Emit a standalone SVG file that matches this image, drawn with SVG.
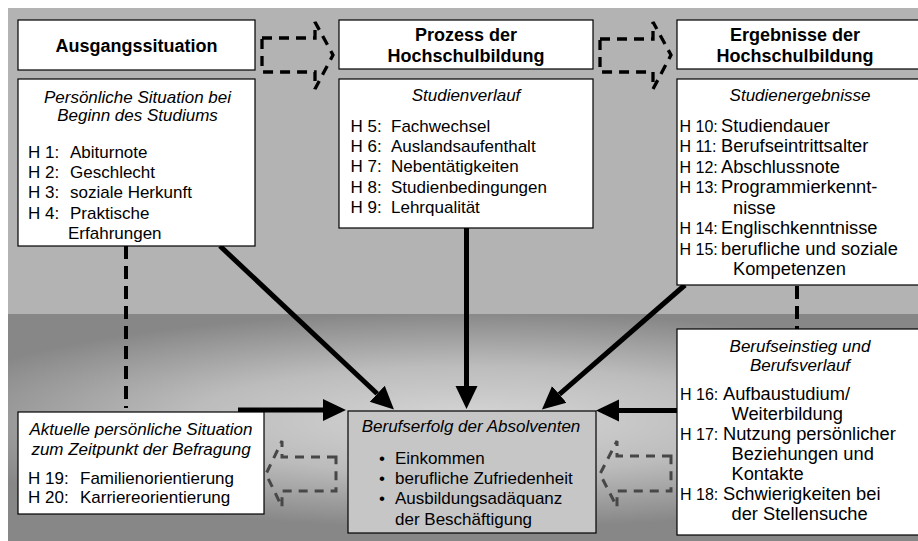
<svg xmlns="http://www.w3.org/2000/svg" width="918" height="541" viewBox="0 0 918 541">
<style>
text{font-family:"Liberation Sans",Arial,sans-serif;font-size:17px;fill:#000}
.t{font-weight:bold;font-size:18px;text-anchor:middle}
.i{font-style:italic;text-anchor:middle}
.h{font-size:16px}
.r{font-size:18.3px}
.box{fill:#fff;stroke:#000;stroke-width:1.2}
.res{fill:#c6c6c6;stroke:#000;stroke-width:1.2}
.solid{stroke:#000;stroke-width:5;fill:none}
.dash{stroke:#000;stroke-width:4;stroke-dasharray:13 7;fill:none}
.blk{stroke:#000;stroke-width:3.3;stroke-dasharray:10 7;fill:none;stroke-linejoin:miter}
.blk2{stroke:#474747;stroke-width:3;stroke-dasharray:9 7;fill:none;stroke-linejoin:miter}
</style>
<defs>
<marker id="ah" markerUnits="userSpaceOnUse" markerWidth="24" markerHeight="24" viewBox="0 -12 24 24" refX="0" refY="0" orient="auto">
<path d="M0,-11 L23,0 L0,11 Z" fill="#000"/>
</marker>
<radialGradient id="bg" gradientUnits="userSpaceOnUse" cx="470" cy="420" r="1" gradientTransform="translate(470 420) scale(560 108) translate(-470 -420)">
<stop offset="0" stop-color="#d6d6d6"/>
<stop offset="0.5" stop-color="#bcbcbc"/>
<stop offset="1" stop-color="#878787"/>
</radialGradient>
</defs>
<rect x="0" y="0" width="918" height="541" fill="#fff"/>
<rect x="8" y="8" width="910" height="306" fill="#b3b3b3"/>
<rect x="8" y="314" width="910" height="227" fill="url(#bg)"/>

<g id="connectors">
<line class="solid" x1="220" y1="246" x2="377.2" y2="393.8" marker-end="url(#ah)"/>
<line class="solid" x1="466.5" y1="228" x2="466.5" y2="386" marker-end="url(#ah)"/>
<line class="solid" x1="685" y1="285" x2="559.3" y2="394.4" marker-end="url(#ah)"/>
<line class="solid" x1="238" y1="410" x2="323" y2="410" marker-end="url(#ah)"/>
<line class="solid" x1="677" y1="410.5" x2="619" y2="410.5" marker-end="url(#ah)"/>
<line class="dash" x1="126" y1="246" x2="126" y2="408"/>
<line class="dash" x1="797" y1="286" x2="797" y2="329"/>
<path class="blk" d="M262,38 L315,38 L315,22 L333,55 L315,89 L315,72 L262,72 Z"/>
<path class="blk" d="M600,39 L653,39 L653,22 L671,55 L653,89 L653,72 L600,72 Z"/>
<path class="blk2" d="M336,457 L282,457 L282,441 L266,474 L282,507 L282,491 L336,491 Z"/>
<path class="blk2" d="M671,456 L617,456 L617,441 L600,474 L617,507 L617,491 L671,491 Z"/>
</g>

<g id="title1">
<rect class="box" x="18" y="20" width="237" height="50"/>
<text class="t" x="136.5" y="52">Ausgangssituation</text>
</g>
<g id="title2">
<rect class="box" x="339" y="20" width="254" height="49"/>
<text class="t" x="466" y="41">Prozess der</text>
<text class="t" x="466" y="61.5">Hochschulbildung</text>
</g>
<g id="title3">
<rect class="box" x="677" y="20" width="250" height="49"/>
<text class="t" x="795" y="41">Ergebnisse der</text>
<text class="t" x="795" y="62">Hochschulbildung</text>
</g>

<g id="start">
<rect class="box" x="18" y="79" width="237" height="167"/>
<text class="i" x="137.5" y="102.5">Persönliche Situation bei</text>
<text class="i" x="137.5" y="121">Beginn des Studiums</text>
<text x="28" y="158">H 1:</text><text x="70" y="158">Abiturnote</text>
<text x="28" y="178.2">H 2:</text><text x="70" y="178.2">Geschlecht</text>
<text x="28" y="198.4">H 3:</text><text x="70" y="198.4">soziale Herkunft</text>
<text x="28" y="218.6">H 4:</text><text x="70" y="218.6">Praktische</text>
<text x="68" y="238.8">Erfahrungen</text>
</g>

<g id="process">
<rect class="box" x="339" y="79" width="254" height="149"/>
<text class="i" x="466" y="101">Studienverlauf</text>
<text x="350.5" y="132">H 5:</text><text x="391" y="132">Fachwechsel</text>
<text x="350.5" y="152.2">H 6:</text><text x="391" y="152.2">Auslandsaufenthalt</text>
<text x="350.5" y="172.4">H 7:</text><text x="391" y="172.4">Nebentätigkeiten</text>
<text x="350.5" y="192.6">H 8:</text><text x="391" y="192.6">Studienbedingungen</text>
<text x="350.5" y="212.8">H 9:</text><text x="391" y="212.8">Lehrqualität</text>
</g>

<g id="results">
<rect class="box" x="677" y="79" width="250" height="206"/>
<text class="i" x="800" y="101">Studienergebnisse</text>
<text class="h" x="679.5" y="132">H 10:</text><text class="r" x="721" y="132">Studiendauer</text>
<text class="h" x="679.5" y="152.4">H 11:</text><text class="r" x="721" y="152.4">Berufseintrittsalter</text>
<text class="h" x="679.5" y="172.9">H 12:</text><text class="r" x="721" y="172.9">Abschlussnote</text>
<text class="h" x="679.5" y="193.3">H 13:</text><text class="r" x="721" y="193.3">Programmierkennt-</text>
<text class="r" x="733" y="213.7">nisse</text>
<text class="h" x="679.5" y="234.1">H 14:</text><text class="r" x="721" y="234.1">Englischkenntnisse</text>
<text class="h" x="679.5" y="254.6">H 15:</text><text class="r" x="721" y="254.6">berufliche und soziale</text>
<text class="r" x="733" y="275">Kompetenzen</text>
</g>

<g id="current">
<rect class="box" x="18" y="412" width="246" height="102"/>
<text class="i" x="141" y="435">Aktuelle persönliche Situation</text>
<text class="i" x="141" y="454.5">zum Zeitpunkt der Befragung</text>
<text x="28" y="483.5">H 19:</text><text x="80" y="483.5">Familienorientierung</text>
<text x="28" y="503">H 20:</text><text x="80" y="503">Karriereorientierung</text>
</g>

<g id="career">
<rect class="box" x="677" y="329" width="250" height="206"/>
<text class="i" x="800" y="351.5">Berufseinstieg und</text>
<text class="i" x="800" y="370.5">Berufsverlauf</text>
<text class="h" x="680" y="400">H 16:</text><text class="r" x="723" y="400">Aufbaustudium/</text>
<text class="r" x="731.5" y="420">Weiterbildung</text>
<text class="h" x="680" y="440">H 17:</text><text class="r" x="723" y="440">Nutzung persönlicher</text>
<text class="r" x="731.5" y="460">Beziehungen und</text>
<text class="r" x="731.5" y="480">Kontakte</text>
<text class="h" x="680" y="500">H 18:</text><text class="r" x="723" y="500">Schwierigkeiten bei</text>
<text class="r" x="731.5" y="520">der Stellensuche</text>
</g>

<g id="success">
<rect class="res" x="348" y="411" width="248" height="122"/>
<text class="i" x="471" y="431.5">Berufserfolg der Absolventen</text>
<text x="379" y="463.5">•</text><text x="395" y="463.5">Einkommen</text>
<text x="379" y="484">•</text><text x="395" y="484">berufliche Zufriedenheit</text>
<text x="379" y="504.3">•</text><text x="395" y="504.3">Ausbildungsadäquanz</text>
<text x="395" y="524.5">der Beschäftigung</text>
</g>
</svg>
